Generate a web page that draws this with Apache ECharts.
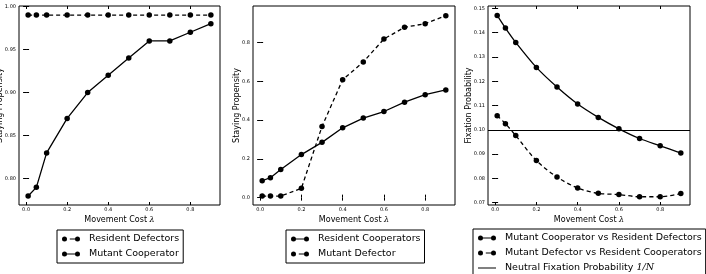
<!DOCTYPE html>
<html>
<head>
<meta charset="utf-8">
<script src="https://cdn.jsdelivr.net/npm/echarts@6/dist/echarts.min.js"></script>
<style>
  html, body { margin: 0; padding: 0; background: #fff; }
  #chart { width: 706px; height: 274px; }
</style>
</head>
<body>
<div id="chart"></div>
<script>
// movement cost lambda (shared x values)
const cost = [0.01, 0.05, 0.1, 0.2, 0.3, 0.4, 0.5, 0.6, 0.7, 0.8, 0.9]

// panel 1
const residentDefectors = [0.99, 0.99, 0.99, 0.99, 0.99, 0.99, 0.99, 0.99, 0.99, 0.99, 0.99]
const mutantCooperator = [0.78, 0.79, 0.83, 0.87, 0.90, 0.92, 0.94, 0.96, 0.96, 0.97, 0.98]

// panel 2
const residentCooperators = [0.087, 0.103, 0.145, 0.222, 0.285, 0.36, 0.41, 0.444, 0.492, 0.531, 0.555]
const mutantDefector = [0.008, 0.008, 0.008, 0.048, 0.367, 0.608, 0.699, 0.818, 0.878, 0.897, 0.938]

// panel 3
const fixCoopVsDef = [0.1471, 0.1419, 0.136, 0.1257, 0.1176, 0.1106, 0.1051, 0.1004, 0.0964, 0.0934, 0.0904]
const fixDefVsCoop = [0.1058, 0.1025, 0.0976, 0.0873, 0.0805, 0.076, 0.0738, 0.0733, 0.0724, 0.0724, 0.0737]
const neutralFix = 0.1

// tick labels
const xTicks = [0.0, 0.2, 0.4, 0.6, 0.8]
const yTicks1 = [0.80, 0.85, 0.90, 0.95, 1.00]
const yTicks2 = [0.0, 0.2, 0.4, 0.6, 0.8]
const yTicks3 = [0.07, 0.08, 0.09, 0.10, 0.11, 0.12, 0.13, 0.14, 0.15]

const FONT = 'DejaVu Sans'
const xRange = [-0.0345, 0.9445]

// legend icons (18 x 5)
const ICON_SOLID = 'path://M0,2.5A2.5,2.5 0 1,1 5,2.5A2.5,2.5 0 1,1 0,2.5Z' +
  'M13,2.5A2.5,2.5 0 1,1 18,2.5A2.5,2.5 0 1,1 13,2.5Z' +
  'M2.5,1.9L15.5,1.9L15.5,3.1L2.5,3.1Z'
const ICON_DASH = 'path://M0,2.5A2.5,2.5 0 1,1 5,2.5A2.5,2.5 0 1,1 0,2.5Z' +
  'M13,2.5A2.5,2.5 0 1,1 18,2.5A2.5,2.5 0 1,1 13,2.5Z' +
  'M7.8,1.9L14,1.9L14,3.1L7.8,3.1Z'
const ICON_LINE = 'path://M0,0L18,0L18,1L0,1Z'

const grids = [
  { left: 19, top: 6, width: 201, height: 199 },
  { left: 253, top: 6, width: 202, height: 199 },
  { left: 488, top: 6, width: 202, height: 199 }
]

const xAxes = []
const yAxes = []

function tickStyle() {
  return { show: true, inside: true, length: 3, lineStyle: { color: '#000', width: 1 } }
}

function addAxes(gi, yMin, yMax, yTicks, digits, yName, yGap) {
  xAxes.push({
    type: 'value', gridIndex: gi, position: 'bottom', min: xRange[0], max: xRange[1],
    name: '{n|Movement Cost }{m|λ}', nameLocation: 'middle', nameGap: 11,
    nameMoveOverlap: false,
    nameTextStyle: {
      rich: {
        n: { fontFamily: FONT, fontSize: 8, color: '#000' },
        m: { fontFamily: 'DejaVu Serif', fontStyle: 'italic', fontSize: 8, color: '#000' }
      }
    },
    axisLine: { show: false },
    axisTick: Object.assign(tickStyle(), { customValues: xTicks }),
    axisLabel: {
      customValues: xTicks, margin: 2, fontSize: 5, fontFamily: FONT, color: '#000',
      formatter: v => v.toFixed(1)
    },
    splitLine: { show: false }
  })
  xAxes.push({
    type: 'value', gridIndex: gi, position: 'top', min: xRange[0], max: xRange[1],
    axisLine: { show: false },
    axisTick: Object.assign(tickStyle(), { customValues: xTicks }),
    axisLabel: { show: false },
    splitLine: { show: false }
  })
  yAxes.push({
    type: 'value', gridIndex: gi, position: 'left', min: yMin, max: yMax,
    name: yName, nameLocation: 'middle', nameGap: yGap,
    nameMoveOverlap: false,
    nameTextStyle: { fontFamily: FONT, fontSize: 8, color: '#000' },
    axisLine: { show: false },
    axisTick: Object.assign(tickStyle(), { customValues: yTicks }),
    axisLabel: {
      customValues: yTicks, margin: 3, fontSize: 5, fontFamily: FONT, color: '#000',
      formatter: v => v.toFixed(digits)
    },
    splitLine: { show: false }
  })
  yAxes.push({
    type: 'value', gridIndex: gi, position: 'right', min: yMin, max: yMax,
    axisLine: { show: false },
    axisTick: Object.assign(tickStyle(), { customValues: yTicks }),
    axisLabel: { show: false },
    splitLine: { show: false }
  })
}

addAxes(0, 0.7695, 1.0005, yTicks1, 2, 'Staying Propensity', 15)
addAxes(1, -0.038, 0.988, yTicks2, 1, 'Staying Propensity', 12)
addAxes(2, 0.069, 0.151, yTicks3, 2, 'Fixation Probability', 15)

function pts(ys) {
  return cost.map((x, i) => [x, ys[i]])
}

function lineSeries(name, panel, ys, dashed, smooth) {
  return {
    name: name, type: 'line',
    xAxisIndex: panel * 2, yAxisIndex: panel * 2,
    data: pts(ys),
    smooth: smooth || false,
    symbol: 'circle', symbolSize: 5.5,
    itemStyle: { color: '#000' },
    lineStyle: { color: '#000', width: 1.3, type: dashed ? [4, 3] : 'solid' },
    animation: false
  }
}

function legendBox(left, top, items) {
  return {
    orient: 'vertical', left: left, top: top, height: 80,
    backgroundColor: '#fff', borderColor: '#000', borderWidth: 1, borderRadius: 0,
    padding: [4, 4, 4, 5], itemWidth: 18, itemHeight: 8, itemGap: 5,
    selectedMode: false,
    textStyle: {
      fontFamily: FONT, fontSize: 9.5, color: '#000', padding: [0, 0, 0, 4],
      rich: {
        t: { fontFamily: FONT, fontSize: 9.5, color: '#000' },
        m: { fontFamily: 'DejaVu Serif', fontStyle: 'italic', fontSize: 9.5, color: '#000' }
      }
    },
    formatter: name => name === 'Neutral Fixation Probability' ? '{t|Neutral Fixation Probability }{m|1/N}' : name,
    data: items
  }
}

const chart = echarts.init(document.getElementById('chart'), null, { renderer: 'canvas' })

chart.setOption({
  backgroundColor: '#fff',
  animation: false,
  grid: grids.map(g => Object.assign({
    show: true, borderColor: '#000', borderWidth: 1, backgroundColor: 'transparent',
    containLabel: false, outerBoundsMode: 'none'
  }, g)),
  xAxis: xAxes,
  yAxis: yAxes,
  legend: [
    legendBox(57, 230, [
      { name: 'Resident Defectors', icon: ICON_DASH },
      { name: 'Mutant Cooperator', icon: ICON_SOLID }
    ]),
    legendBox(286, 230, [
      { name: 'Resident Cooperators', icon: ICON_SOLID },
      { name: 'Mutant Defector', icon: ICON_DASH }
    ]),
    legendBox(473, 229, [
      { name: 'Mutant Cooperator vs Resident Defectors', icon: ICON_SOLID },
      { name: 'Mutant Defector vs Resident Cooperators', icon: ICON_DASH },
      { name: 'Neutral Fixation Probability', icon: ICON_LINE }
    ])
  ],
  series: [
    lineSeries('Resident Defectors', 0, residentDefectors, true),
    lineSeries('Mutant Cooperator', 0, mutantCooperator, false),
    lineSeries('Resident Cooperators', 1, residentCooperators, false),
    lineSeries('Mutant Defector', 1, mutantDefector, true),
    lineSeries('Mutant Cooperator vs Resident Defectors', 2, fixCoopVsDef, false, 0.3),
    lineSeries('Mutant Defector vs Resident Cooperators', 2, fixDefVsCoop, true, 0.3),
    {
      name: 'Neutral Fixation Probability', type: 'line',
      xAxisIndex: 4, yAxisIndex: 4, data: [],
      itemStyle: { color: '#000' },
      lineStyle: { color: '#000', width: 1 },
      markLine: {
        silent: true, symbol: 'none', label: { show: false },
        lineStyle: { color: '#000', width: 1, type: 'solid' },
        data: [{ yAxis: neutralFix }]
      },
      animation: false
    }
  ]
})
</script>
</body>
</html>
